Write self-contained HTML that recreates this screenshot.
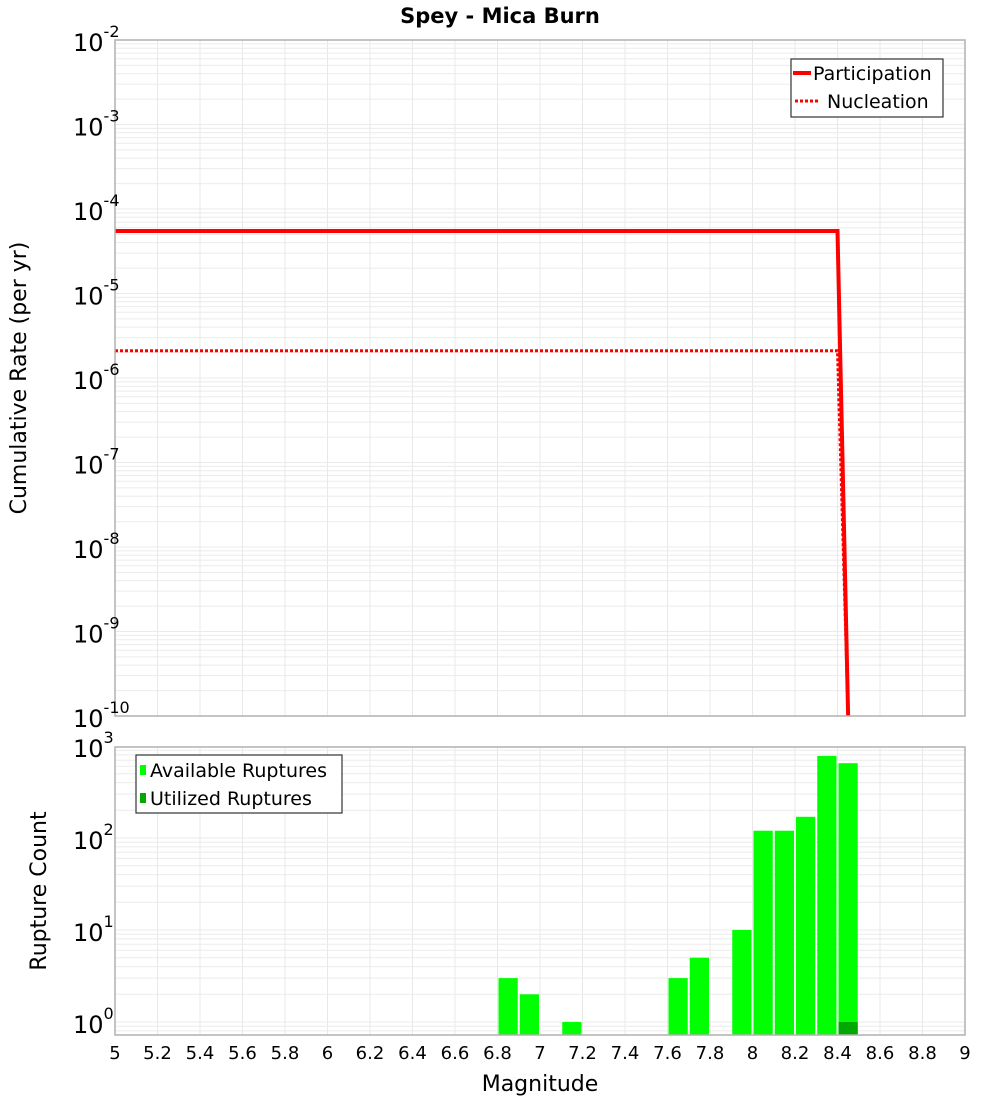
<!DOCTYPE html>
<html><head><meta charset="utf-8"><style>
html,body{margin:0;padding:0;background:#fff}
svg{display:block;font-family:"DejaVu Sans","Liberation Sans",sans-serif}
</style></head><body>
<svg id="chart" width="1000" height="1100" viewBox="0 0 1000 1100" xmlns="http://www.w3.org/2000/svg">
<text x="500" y="23" text-anchor="middle" font-size="21" font-weight="bold">Spey - Mica Burn</text>
<g id="top-grid"></g>
<g id="bot-grid"></g>
<g id="bars"></g>
<g id="lines"></g>
<rect x="115" y="40" width="850" height="676" fill="none" stroke="#b0b0b0" stroke-width="1.5"/>
<rect x="115" y="747" width="850" height="288" fill="none" stroke="#b0b0b0" stroke-width="1.5"/>
<g id="yticks-top"></g>
<g id="yticks-bot"></g>
<g id="xticks"></g>
<text transform="translate(26,378) rotate(-90)" text-anchor="middle" font-size="22">Cumulative Rate (per yr)</text>
<text transform="translate(46,891) rotate(-90)" text-anchor="middle" font-size="22">Rupture Count</text>
<text x="540" y="1091" text-anchor="middle" font-size="22">Magnitude</text>
<g>
<rect x="791" y="59" width="152" height="58" fill="#fff" stroke="#333" stroke-width="1.2"/>
<line x1="793" y1="73" x2="811" y2="73" stroke="#f00" stroke-width="4"/>
<text x="813" y="80" font-size="19">Participation</text>
<line x1="795" y1="101" x2="820" y2="101" stroke="#f00" stroke-width="3" stroke-dasharray="3,2"/>
<text x="827" y="108" font-size="19">Nucleation</text>
</g>
<g>
<rect x="136" y="755" width="206" height="58" fill="#fff" stroke="#333" stroke-width="1.2"/>
<rect x="140" y="765" width="6" height="10" fill="#00ff00"/>
<text x="150" y="777" font-size="19">Available Ruptures</text>
<rect x="140" y="793" width="6" height="10" fill="#00a800"/>
<text x="150" y="805" font-size="19">Utilized Ruptures</text>
</g>
</svg>
<script>
const partMags=[5.0,8.4,8.45];
const partRates=[5.5e-5,5.5e-5,1e-10];
const nuclMags=[5.0,8.4,8.45];
const nuclRates=[2.1e-6,2.1e-6,1e-10];
const binCenters=[6.85,6.95,7.15,7.65,7.75,7.95,8.05,8.15,8.25,8.35,8.45];
const availCounts=[3,2,1,3,5,10,120,120,170,780,650];
const utilCenters=[8.45];
const utilCounts=[1];
const xTicks=[5,5.2,5.4,5.6,5.8,6,6.2,6.4,6.6,6.8,7,7.2,7.4,7.6,7.8,8,8.2,8.4,8.6,8.8,9];
const topDecades=[-2,-3,-4,-5,-6,-7,-8,-9,-10];
const botDecades=[3,2,1,0];
const NS='http://www.w3.org/2000/svg';
const X=m=>115+(m-5)*212.5;
const YT=v=>40+(-2-Math.log10(v))*84.5;
const YB=v=>746+(3-Math.log10(v))*92;
function mk(tag,attrs,parent){const e=document.createElementNS(NS,tag);for(const k in attrs)e.setAttribute(k,attrs[k]);parent.appendChild(e);return e;}
const tg=document.getElementById('top-grid'),bg=document.getElementById('bot-grid');
xTicks.forEach(t=>{
 let l=mk('line',{x1:X(t),x2:X(t),y1:40,y2:716,stroke:'#e8e8e8'},tg);
 
 
 l=mk('line',{x1:X(t),x2:X(t),y1:747,y2:1035,stroke:'#e8e8e8'},bg);
 
 
});
for(let d=-10;d<-2;d++){for(let k=1;k<10;k++){const y=YT(k*Math.pow(10,d));
 const l=mk('line',{x1:115,x2:965,y1:y,y2:y,stroke:'#ebebeb'},tg);
 
 }}
for(let d=-1;d<3;d++){for(let k=1;k<10;k++){const y=YB(k*Math.pow(10,d));if(y<747||y>1035)continue;
 const l=mk('line',{x1:115,x2:965,y1:y,y2:y,stroke:'#ebebeb'},bg);
 
 }}
const bars=document.getElementById('bars');
binCenters.forEach((c,i)=>{const y=YB(availCounts[i]);
 const r=mk('rect',{x:X(c-0.05)+1,y:y,width:212.5*0.1-2,height:1035-y,fill:'#00ff00'},bars);
 
 });
utilCenters.forEach((c,i)=>{const y=YB(utilCounts[i]);
 const r=mk('rect',{x:X(c-0.05)+1,y:y,width:212.5*0.1-2,height:1035-y,fill:'#00a800'},bars);
 
 });
const lines=document.getElementById('lines');
function pts(ms,rs){return ms.map((m,i)=>X(m)+','+Math.min(YT(rs[i]),716)).join(' ');}
let p=mk('polyline',{points:pts(nuclMags,nuclRates),fill:'none',stroke:'#f00','stroke-width':3,'stroke-dasharray':'3,2'},lines);


p=mk('polyline',{points:pts(partMags,partRates),fill:'none',stroke:'#f00','stroke-width':4},lines);


const yt=document.getElementById('yticks-top');
topDecades.forEach(d=>{const y=YT(Math.pow(10,d));
 const t=mk('text',{x:73,y:y+11,'font-size':24},yt);
 
 
 t.textContent='10';
 const s=mk('tspan',{dy:-14,'font-size':16},t);s.textContent=String(d);});
const yb=document.getElementById('yticks-bot');
botDecades.forEach(d=>{const y=YB(Math.pow(10,d));
 const t=mk('text',{x:73,y:y+11,'font-size':24},yb);
 
 
 t.textContent='10';
 const s=mk('tspan',{dy:-14,'font-size':16},t);s.textContent=String(d);});
const xt=document.getElementById('xticks');
xTicks.forEach(v=>{const t=mk('text',{x:X(v),y:1059,'text-anchor':'middle','font-size':18},xt);
 
 
 t.textContent=String(Math.round(v*10)/10);});
</script>
</body></html>
